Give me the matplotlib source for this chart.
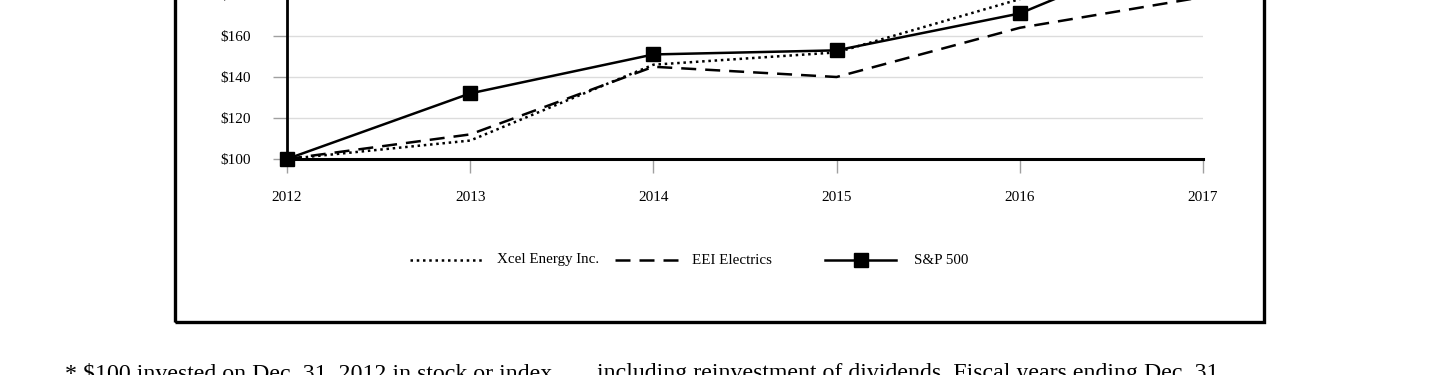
import matplotlib
matplotlib.use("Agg")
import matplotlib.pyplot as plt
from matplotlib.lines import Line2D
from matplotlib.patches import Rectangle

# --- Data (cumulative total return, $100 invested 2012) ---
years = [2012, 2013, 2014, 2015, 2016, 2017]
xcel = [100, 109, 146, 152, 178, 199]
eei = [100, 112, 145, 140, 164, 179]
sp500 = [100, 132, 151, 153, 171, 208]
ytick_vals = [100, 120, 140, 160, 180]

W, H = 1440, 375
plt.rcParams['font.family'] = ['Liberation Serif', 'DejaVu Serif']

fig = plt.figure(figsize=(W / 100, H / 100), dpi=100)

def fx(px):
    return px / W

def fy(py):
    return (H - py) / H

# axes: x 287..1203 px, $100 at y=159 px, 2.05 px per dollar
px_per = 2.05
ax_h = (220 - 100) * px_per
ax = fig.add_axes([fx(287), fy(159), fx(1203) - fx(287), ax_h / H])

dot_style = (0, (1, 1.5))
dash_style = (0, (6, 3.6))

ax.plot(years, xcel, color='black', lw=1.8, linestyle=dot_style, zorder=6, clip_on=False)
ax.plot(years, eei, color='black', lw=1.8, linestyle=dash_style, zorder=6, clip_on=False)
ax.plot(years, sp500, color='black', lw=1.8, marker='s', markersize=9.5, zorder=7,
        clip_on=False)

ax.set_xlim(2012, 2017)
ax.set_ylim(100, 220)
ax.set_xticks(years)
ax.set_xticklabels([str(y) for y in years])
ax.set_yticks(ytick_vals)
ax.set_yticklabels([f"${v}" for v in ytick_vals])
ax.yaxis.grid(True, color='#dcdcdc', lw=1)
ax.set_axisbelow(True)

for s in ['top', 'right']:
    ax.spines[s].set_visible(False)
ax.spines['left'].set_linewidth(2)
ax.spines['bottom'].set_linewidth(2.2)
ax.spines['bottom'].set_zorder(5)

ax.tick_params(axis='y', length=10, width=1, color='#a0a0a0', pad=16, labelsize=11)
ax.tick_params(axis='x', length=10, width=1, color='#a0a0a0', pad=13, labelsize=11)

# outer frame
fig.patches.append(Rectangle((fx(175), fy(322)), fx(1264) - fx(175), fy(-20) - fy(322),
                             transform=fig.transFigure, fill=False, lw=2.4,
                             edgecolor='black', clip_on=False))

# legend row
ly = fy(260)
legend_items = [
    (410, 485, dot_style, None, 497, "Xcel Energy Inc."),
    (615, 678, dash_style, None, 692, "EEI Electrics"),
    (825, 896, '-', 's', 914, "S&P 500"),
]
for x0, x1, ls, mk, tx, label in legend_items:
    fig.lines.append(Line2D([fx(x0), fx(x1)], [ly, ly], transform=fig.transFigure,
                            color='black', lw=1.8, linestyle=ls))
    if mk:
        fig.lines.append(Line2D([fx((x0 + x1) / 2)], [ly], transform=fig.transFigure,
                                color='black', marker=mk, markersize=9.5, linestyle='none'))
    fig.text(fx(tx), ly, label, fontsize=10.8, va='center', ha='left')

# footnote
fig.text(fx(65), -0.012, "* $100 invested on Dec. 31, 2012 in stock or index",
         fontsize=17.2, va='baseline', ha='left')
fig.text(fx(597), -0.012, "including reinvestment of dividends. Fiscal years ending Dec. 31.",
         fontsize=17.2, va='baseline', ha='left')

fig.savefig("out.png", dpi=100)
